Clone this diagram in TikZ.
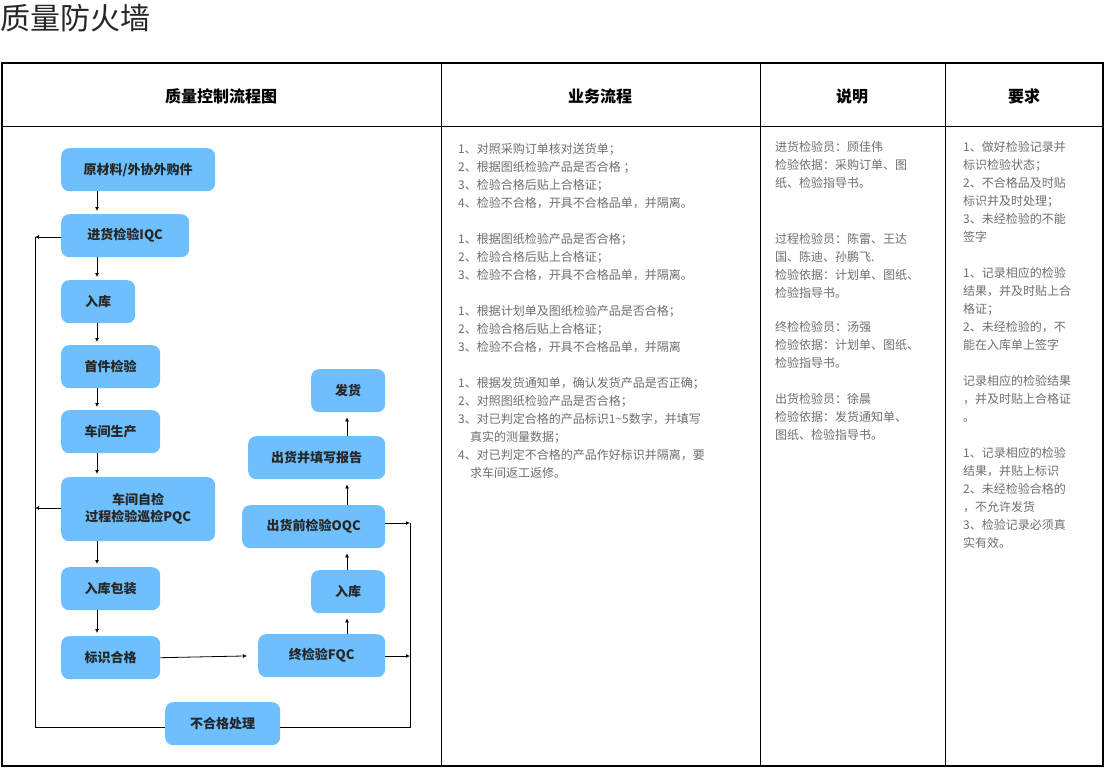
\documentclass[tikz,border=0pt]{standalone}
\usepackage{fontspec}
\setmainfont{Noto Sans CJK SC}
\usetikzlibrary{arrows.meta}
\definecolor{boxblue}{HTML}{6DBFFD}
\definecolor{txtgray}{HTML}{6E6E6E}
\begin{document}
\begin{tikzpicture}[x=1pt,y=-1pt,
  flow/.style={draw=none,fill=boxblue,rounded corners=8pt,anchor=north west,inner sep=0pt,
    font=\fontsize{13}{17}\selectfont\bfseries,text=black!85,align=center},
  arr/.style={-{Latex[length=4pt,width=4pt]},line width=0.8pt},
  ln/.style={line width=0.8pt},
  body/.style={anchor=north west,inner sep=0pt,align=left,text=txtgray,font=\fontsize{12}{18}\selectfont},
  head/.style={font=\fontsize{16}{18}\selectfont\bfseries,text=black}]
\useasboundingbox (0,0) rectangle (1105,768);
\node[anchor=west,inner sep=0pt,font=\fontsize{30}{32}\selectfont,text=black!85] (title) at (0,18) {质量防火墙};
% table
\draw[line width=2.5pt] (2,63) rectangle (1103,766);
\draw[line width=0.8pt] (2,126) -- (1103,126);
\draw[line width=0.8pt] (441,63) -- (441,766) (760,63) -- (760,766) (945,63) -- (945,766);
\node[head] (h1) at (221,96) {质量控制流程图};
\node[head] (h2) at (600,96) {业务流程};
\node[head] (h3) at (852,96) {说明};
\node[head] (h4) at (1024,96) {要求};
% boxes
\node[flow,minimum width=154pt,minimum height=43pt] (b1) at (61,148) {原材料/外协外购件};
\node[flow,minimum width=128pt,minimum height=43pt] (b2) at (61,214) {进货检验IQC};
\node[flow,minimum width=74pt,minimum height=43pt] (b3) at (61,280) {入库};
\node[flow,minimum width=99pt,minimum height=43pt] (b4) at (61,345) {首件检验};
\node[flow,minimum width=99pt,minimum height=43pt] (b5) at (61,410) {车间生产};
\node[flow,minimum width=154pt,minimum height=64pt] (b6) at (61,477) {车间自检\\过程检验巡检PQC};
\node[flow,minimum width=99pt,minimum height=43pt] (b7) at (61,567) {入库包装};
\node[flow,minimum width=99pt,minimum height=43pt] (b8) at (61,636) {标识合格};
\node[flow,minimum width=127pt,minimum height=43pt] (b9) at (258,634) {终检验FQC};
\node[flow,minimum width=74pt,minimum height=43pt] (b10) at (311,570) {入库};
\node[flow,minimum width=143pt,minimum height=43pt] (b11) at (242,505) {出货前检验OQC};
\node[flow,minimum width=137pt,minimum height=43pt] (b12) at (248,436) {出货并填写报告};
\node[flow,minimum width=74pt,minimum height=43pt] (b13) at (311,369) {发货};
\node[flow,minimum width=115pt,minimum height=43pt] (b14) at (165,702) {不合格处理};
% vertical arrows left column
\foreach \a/\b in {b1/b2,b2/b3,b3/b4,b4/b5,b5/b6,b6/b7,b7/b8}{
  \draw[arr,shorten >=3pt] (\a.south -| 97,0) -- (\b.north -| 97,0);
}
\foreach \a/\b in {b9/b10,b10/b11,b11/b12,b12/b13}{
  \draw[arr,shorten >=5pt] (\a.north -| 347,0) -- (\b.south -| 347,0);
}
\draw[arr,shorten >=11pt] (b8.east) -- (b9.west);
% feedback lines
\coordinate (lt) at (35,237);
\coordinate (lm) at (35,508);
\coordinate (lb) at (35,727);
\coordinate (rt) at (410,523);
\coordinate (rm) at (410,656);
\coordinate (rb) at (410,727);
\draw[arr] (b2.west |- lt) -- (lt);
\draw[arr] (b6.west |- lm) -- (lm);
\draw[ln] (lt) -- (lb) -- (b14.west |- lb);
\draw[arr] (b11.east |- rt) -- (rt);
\draw[arr] (b9.east |- rm) -- (rm);
\draw[ln] (rt) -- (rb) -- (b14.east |- rb);
% text columns
\node[body] (c2) at (458,143) {1、对照采购订单核对送货单；\\2、根据图纸检验产品是否合格 ；\\3、检验合格后贴上合格证；\\4、检验不合格，开具不合格品单，并隔离。\\[18pt]
1、根据图纸检验产品是否合格；\\2、检验合格后贴上合格证；\\3、检验不合格，开具不合格品单，并隔离。\\[18pt]
1、根据计划单及图纸检验产品是否合格；\\2、检验合格后贴上合格证；\\3、检验不合格，开具不合格品单，并隔离\\[18pt]
1、根据发货通知单，确认发货产品是否正确；\\2、对照图纸检验产品是否合格；\\3、对已判定合格的产品标识1\textasciitilde5数字，并填写\\\hspace*{12pt}真实的测量数据；\\4、对已判定不合格的产品作好标识并隔离，要\\\hspace*{12pt}求车间返工返修。};
\node[body] (c3) at (775,141) {进货检验员：顾佳伟\\检验依据：采购订单、图\\纸、检验指导书。\\[38pt]
过程检验员：陈雷、王达\\国、陈迪、孙鹏飞.\\检验依据：计划单、图纸、\\检验指导书。\\[16pt]
终检检验员：汤强\\检验依据：计划单、图纸、\\检验指导书。\\[18pt]
出货检验员：徐晨\\检验依据：发货通知单、\\图纸、检验指导书。};
\node[body] (c4) at (963,141) {1、做好检验记录并\\标识检验状态；\\2、不合格品及时贴\\标识并及时处理；\\3、未经检验的不能\\签字\\[18pt]
1、记录相应的检验\\结果，并及时贴上合\\格证；\\2、未经检验的，不\\能在入库单上签字\\[18pt]
记录相应的检验结果\\，并及时贴上合格证\\。\\[18pt]
1、记录相应的检验\\结果，并贴上标识\\2、未经检验合格的\\，不允许发货\\3、检验记录必须真\\实有效。};
\end{tikzpicture}
\end{document}
